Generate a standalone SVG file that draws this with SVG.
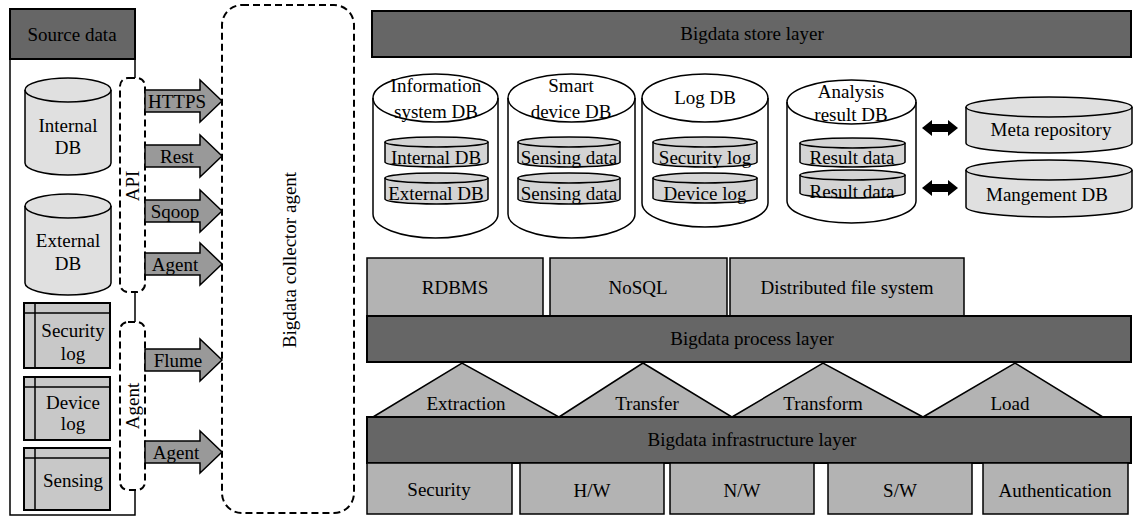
<svg xmlns="http://www.w3.org/2000/svg" width="1134" height="517" viewBox="0 0 1134 517">
<style>
text{font-family:'Liberation Serif','DejaVu Serif',serif;font-size:19px;fill:#000;text-anchor:middle}
.dark{fill:#666;stroke:#000;stroke-width:2}
.box{fill:#b3b3b3;stroke:#000;stroke-width:1.5}
.cyl{fill:#e0e0e0;stroke:#000;stroke-width:1.5}
.bigcyl{fill:#fff;stroke:#000;stroke-width:1.5}
.inner{fill:#d4d4d4;stroke:#000;stroke-width:1.5}
.log{fill:#c8c8c8;stroke:#000;stroke-width:2}
.arrow{fill:#999;stroke:#000;stroke-width:1.5}
.dash{fill:none;stroke:#000;stroke-width:2;stroke-dasharray:7 4}
.line{fill:none;stroke:#000;stroke-width:1.5}
.tri{fill:#b3b3b3;stroke:#000;stroke-width:1.5}
</style>
<rect width="1134" height="517" fill="#fff"/>
<g font-family="Liberation Serif, DejaVu Serif, serif">
<g id="source-data">
<path class="line" d="M135,59 V78 M135,292 V322 M135,490 V515 H10 V9 H135 V59"/>
<rect class="dark" x="10" y="9" width="125" height="50" stroke-width="1.5"/>
<text x="72" y="41">Source data</text>
</g>

<g id="internal-db">
<path class="cyl" d="M25,90 V163 A43,12 0 0 0 111,163 V90 A43,12 0 0 0 25,90 Z"/>
<path class="line" d="M25,90 A43,12 0 0 0 111,90"/>
<text x="68" y="132">Internal</text>
<text x="68" y="154">DB</text>
</g>
<g id="external-db">
<path class="cyl" d="M25,206 V283 A43,12 0 0 0 111,283 V206 A43,12 0 0 0 25,206 Z"/>
<path class="line" d="M25,206 A43,12 0 0 0 111,206"/>
<text x="68" y="247">External</text>
<text x="68" y="270">DB</text>
</g>

<g id="security-log">
<rect class="log" x="24" y="303" width="86" height="65"/>
<path class="line" d="M35,303 V368 M24,313 H110" stroke-width="2"/>
<text x="73" y="337">Security</text>
<text x="73" y="360">log</text>
</g>
<g id="device-log">
<rect class="log" x="24" y="377" width="86" height="63"/>
<path class="line" d="M35,377 V440 M24,387 H110" stroke-width="2"/>
<text x="73" y="409">Device</text>
<text x="73" y="430">log</text>
</g>
<g id="sensing">
<rect class="log" x="24" y="448" width="86" height="62"/>
<path class="line" d="M35,448 V510 M24,458 H110" stroke-width="2"/>
<text x="73" y="487">Sensing</text>
</g>

<g id="api-bracket">
<rect class="dash" x="120" y="78" width="25" height="214" rx="8"/>
<text transform="translate(139,186) rotate(-90)">API</text>
</g>
<g id="agent-bracket">
<rect class="dash" x="120" y="322" width="25" height="168" rx="8"/>
<text transform="translate(139,406) rotate(-90)">Agent</text>
</g>

<g id="collector-agent">
<rect class="dash" x="222" y="5" width="132" height="508" rx="20"/>
<text transform="translate(296,260) rotate(-90)">Bigdata collector agent</text>
</g>

<g id="connectors">
<g id="arrow-https">
<polygon class="arrow" points="145,90 200,90 200,80 222,101 200,122 200,112 145,112"/>
<text x="177" y="108">HTTPS</text>
</g>
<g id="arrow-rest">
<polygon class="arrow" points="145,145 200,145 200,135 222,156 200,177 200,167 145,167"/>
<text x="177" y="163">Rest</text>
</g>
<g id="arrow-sqoop">
<polygon class="arrow" points="145,200 200,200 200,190 222,211 200,232 200,222 145,222"/>
<text x="175" y="218">Sqoop</text>
</g>
<g id="arrow-agent1">
<polygon class="arrow" points="145,253 200,253 200,243 222,264 200,285 200,275 145,275"/>
<text x="175" y="271">Agent</text>
</g>
<g id="arrow-flume">
<polygon class="arrow" points="145,349 200,349 200,339 222,360 200,381 200,371 145,371"/>
<text x="178" y="367">Flume</text>
</g>
<g id="arrow-agent2">
<polygon class="arrow" points="145,441 200,441 200,431 222,452 200,473 200,463 145,463"/>
<text x="176" y="459">Agent</text>
</g>
<polygon fill="#000" points="922,128 932,120 932,124 948,124 948,120 958,128 948,136 948,132 932,132 932,136"/>
<polygon fill="#000" points="922,188 932,180 932,184 948,184 948,180 958,188 948,196 948,192 932,192 932,196"/>
</g>

<g id="store-layer">
<rect class="dark" x="372" y="11" width="759" height="46"/>
<text x="752" y="40">Bigdata store layer</text>
</g>

<g id="information-system-db">
<path class="bigcyl" d="M373,98 V214 A62.5,24 0 0 0 498,214 V98 A62.5,24 0 0 0 373,98 Z"/>
<path class="line" d="M373,98 A62.5,24 0 0 0 498,98"/>
<text x="436" y="92">Information</text>
<text x="436" y="118">system DB</text>
<path class="inner" d="M385,142 V162 A51.5,5 0 0 0 488,162 V142 A51.5,5 0 0 0 385,142 Z"/>
<path class="line" d="M385,142 A51.5,5 0 0 0 488,142"/>
<text x="436" y="164">Internal DB</text>
<path class="inner" d="M385,178 V199 A51.5,5 0 0 0 488,199 V178 A51.5,5 0 0 0 385,178 Z"/>
<path class="line" d="M385,178 A51.5,5 0 0 0 488,178"/>
<text x="436" y="200">External DB</text>
</g>

<g id="smart-device-db">
<path class="bigcyl" d="M508,98 V214 A63.5,24 0 0 0 635,214 V98 A63.5,24 0 0 0 508,98 Z"/>
<path class="line" d="M508,98 A63.5,24 0 0 0 635,98"/>
<text x="571" y="92">Smart</text>
<text x="571" y="118">device DB</text>
<path class="inner" d="M518,142 V162 A51,5 0 0 0 620,162 V142 A51,5 0 0 0 518,142 Z"/>
<path class="line" d="M518,142 A51,5 0 0 0 620,142"/>
<text x="569" y="164">Sensing data</text>
<path class="inner" d="M518,178 V199 A51,5 0 0 0 620,199 V178 A51,5 0 0 0 518,178 Z"/>
<path class="line" d="M518,178 A51,5 0 0 0 620,178"/>
<text x="569" y="200">Sensing data</text>
</g>

<g id="log-db">
<path class="bigcyl" d="M642,98 V203 A63,24 0 0 0 768,203 V98 A63,24 0 0 0 642,98 Z"/>
<path class="line" d="M642,98 A63,24 0 0 0 768,98"/>
<text x="705" y="104">Log DB</text>
<path class="inner" d="M653,142 V162 A52,5 0 0 0 757,162 V142 A52,5 0 0 0 653,142 Z"/>
<path class="line" d="M653,142 A52,5 0 0 0 757,142"/>
<text x="705" y="164">Security log</text>
<path class="inner" d="M653,178 V198 A52,5 0 0 0 757,198 V178 A52,5 0 0 0 653,178 Z"/>
<path class="line" d="M653,178 A52,5 0 0 0 757,178"/>
<text x="705" y="200">Device log</text>
</g>

<g id="analysis-result-db">
<path class="bigcyl" d="M787,102 V201 A64.5,22 0 0 0 916,201 V102 A64.5,22 0 0 0 787,102 Z"/>
<path class="line" d="M787,102 A64.5,22 0 0 0 916,102"/>
<text x="851" y="98">Analysis</text>
<text x="851" y="121">result DB</text>
<path class="inner" d="M800,143 V162 A52.5,5 0 0 0 905,162 V143 A52.5,5 0 0 0 800,143 Z"/>
<path class="line" d="M800,143 A52.5,5 0 0 0 905,143"/>
<text x="852" y="164">Result data</text>
<path class="inner" d="M800,175 V193 A52.5,5 0 0 0 905,193 V175 A52.5,5 0 0 0 800,175 Z"/>
<path class="line" d="M800,175 A52.5,5 0 0 0 905,175"/>
<text x="852" y="198">Result data</text>
</g>

<g id="meta-repository">
<path class="cyl" d="M966,107 V143 A83,10 0 0 0 1132,143 V107 A83,10 0 0 0 966,107 Z"/>
<path class="line" d="M966,107 A83,10 0 0 0 1132,107"/>
<text x="1051" y="136">Meta repository</text>
</g>
<g id="management-db">
<path class="cyl" d="M966,170 V207 A83,10 0 0 0 1132,207 V170 A83,10 0 0 0 966,170 Z"/>
<path class="line" d="M966,170 A83,10 0 0 0 1132,170"/>
<text x="1047" y="201">Mangement DB</text>
</g>

<g id="rdbms"><rect class="box" x="367" y="258" width="176" height="58"/><text x="455" y="294">RDBMS</text></g>
<g id="nosql"><rect class="box" x="550" y="258" width="177" height="58"/><text x="638" y="294">NoSQL</text></g>
<g id="dfs"><rect class="box" x="730" y="258" width="234" height="58"/><text x="847" y="294">Distributed file system</text></g>

<g id="process-layer">
<rect class="dark" x="367" y="316" width="764" height="46"/>
<text x="752" y="345">Bigdata process layer</text>
</g>

<g id="extraction"><polygon class="tri" points="373,417 462,363 559,417"/><text x="466" y="410">Extraction</text></g>
<g id="transfer"><polygon class="tri" points="559,417 643,363 732,417"/><text x="647" y="410">Transfer</text></g>
<g id="transform"><polygon class="tri" points="732,417 823,363 923,417"/><text x="823" y="410">Transform</text></g>
<g id="load"><polygon class="tri" points="923,417 1015,363 1103,417"/><text x="1010" y="410">Load</text></g>

<g id="infrastructure-layer">
<rect class="dark" x="367" y="417" width="764" height="46"/>
<text x="752" y="446">Bigdata infrastructure layer</text>
</g>

<g id="security"><rect class="box" x="367" y="463" width="145" height="51"/><text x="439" y="496">Security</text></g>
<g id="hw"><rect class="box" x="520" y="463" width="144" height="51"/><text x="592" y="497">H/W</text></g>
<g id="nw"><rect class="box" x="670" y="463" width="144" height="51"/><text x="742" y="497">N/W</text></g>
<g id="sw"><rect class="box" x="828" y="463" width="144" height="51"/><text x="900" y="497">S/W</text></g>
<g id="authentication"><rect class="box" x="983" y="463" width="145" height="51"/><text x="1055" y="497">Authentication</text></g>
</g>
</svg>
